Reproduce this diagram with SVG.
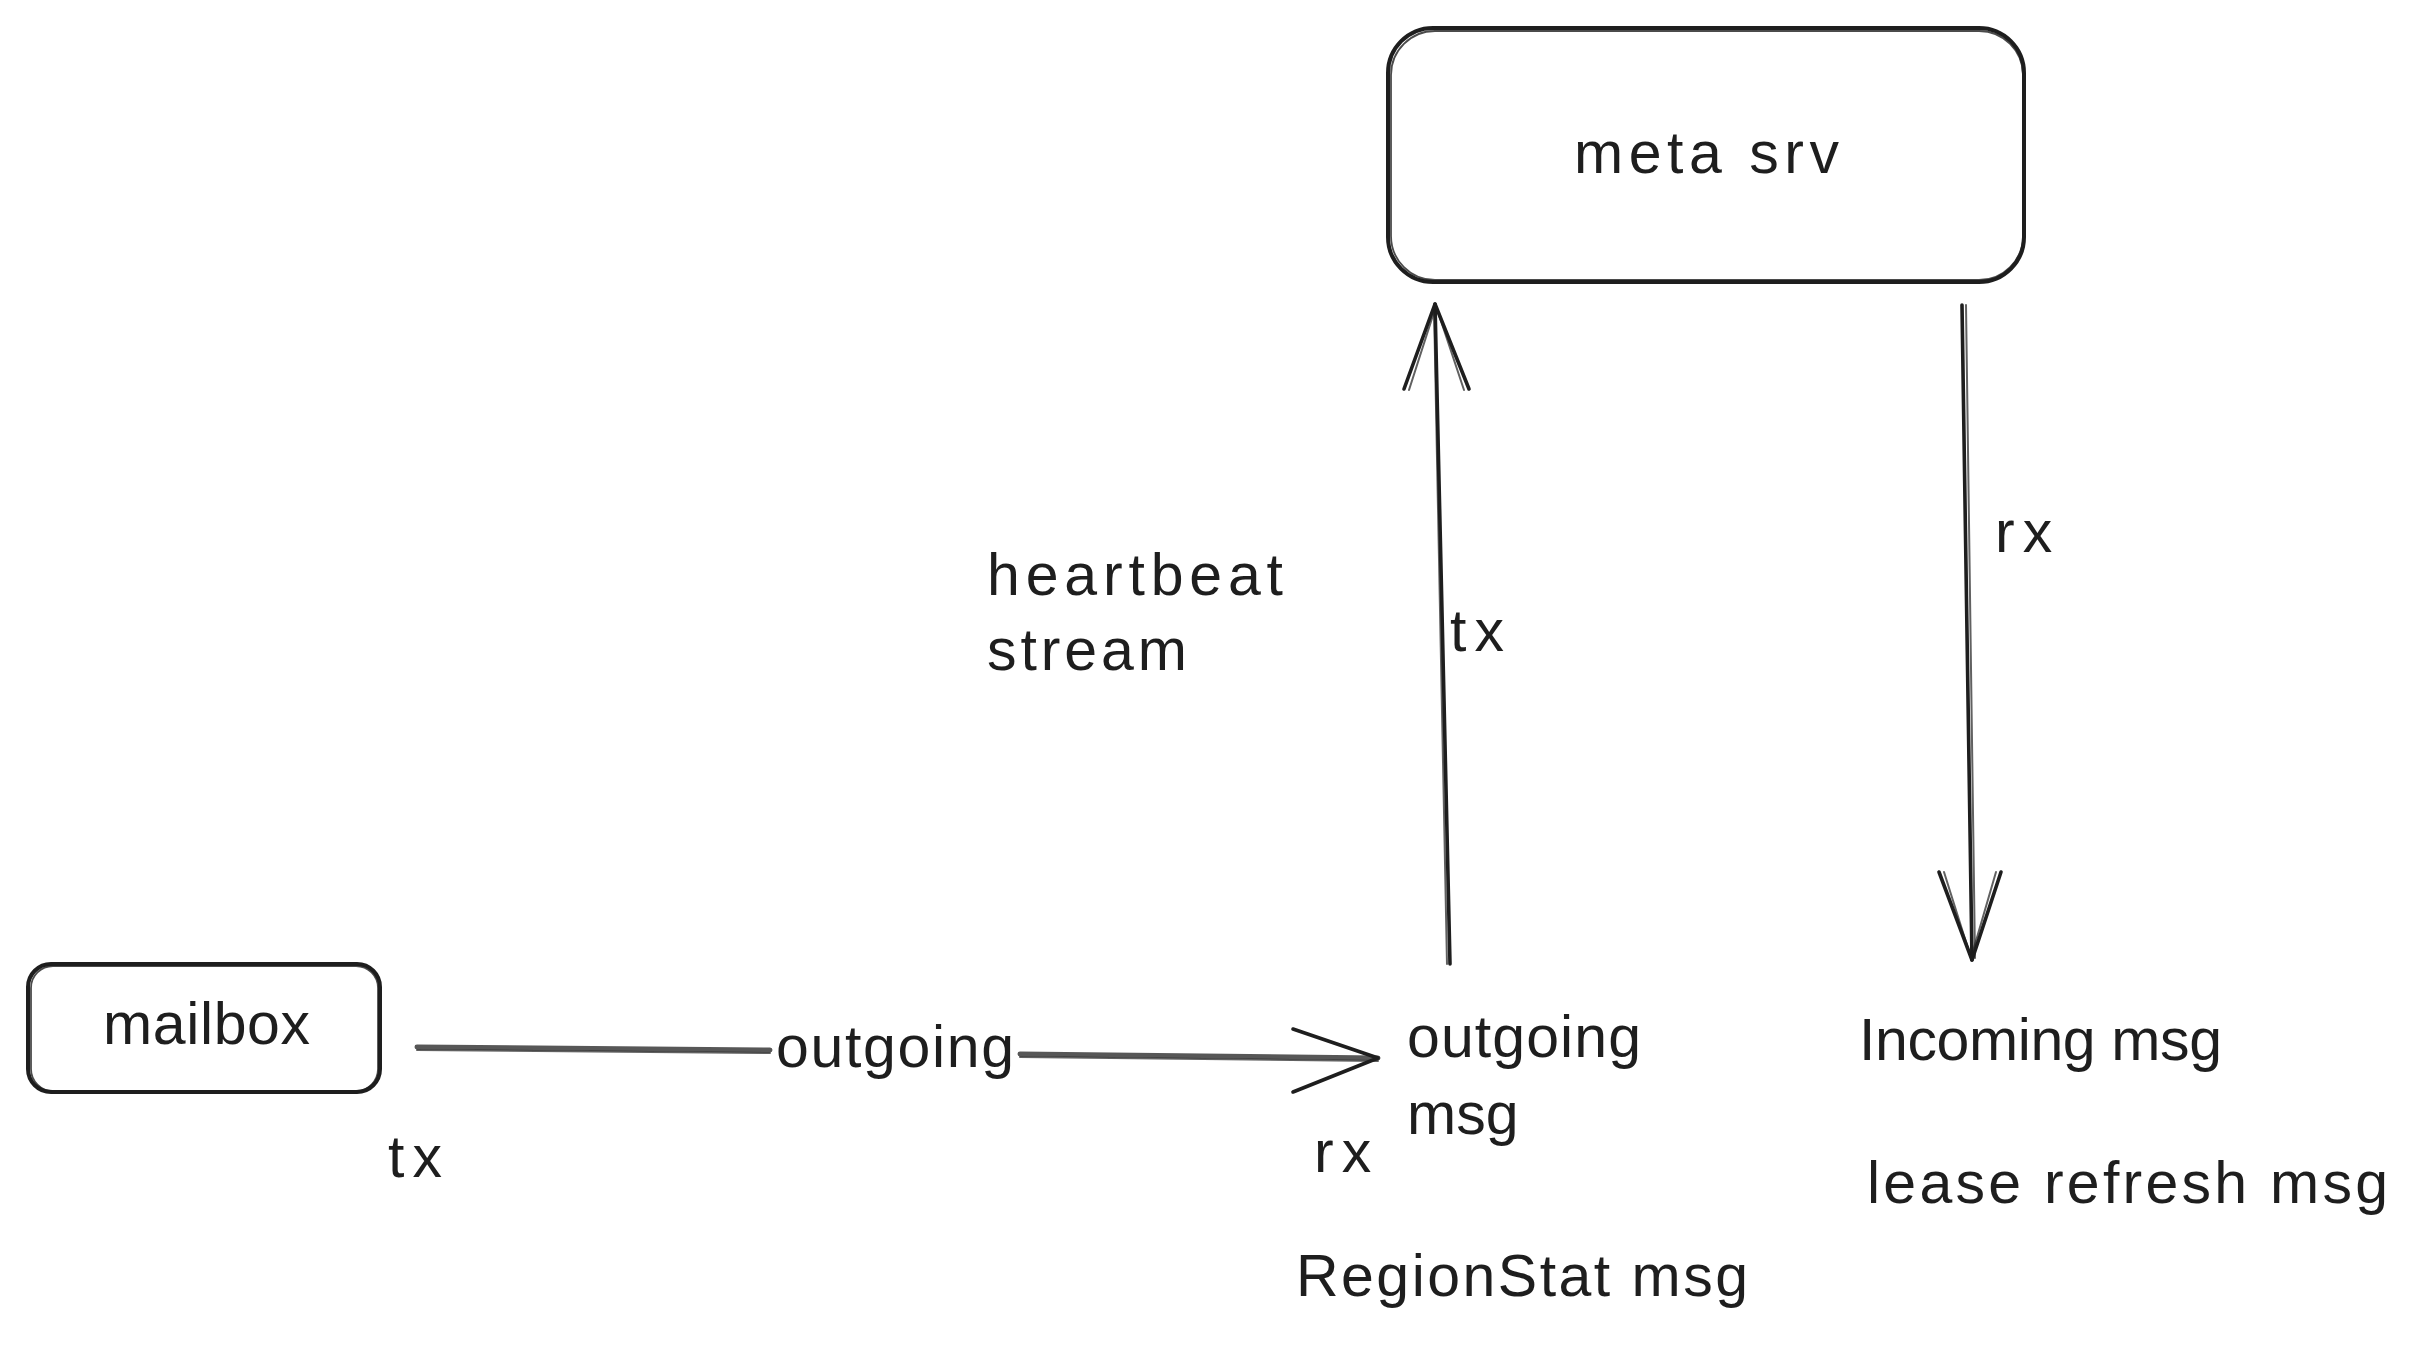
<svg xmlns="http://www.w3.org/2000/svg" width="2419" height="1347" viewBox="0 0 2419 1347">
<style>
.bg{fill:#ffffff}
.box{fill:none;stroke:#1e1e1e;stroke-width:4;stroke-linejoin:round}
.box2{fill:none;stroke:#1e1e1e;stroke-width:1.8;opacity:0.8}
.ln{fill:none;stroke:#1e1e1e;stroke-width:3.6;stroke-linecap:round;stroke-linejoin:round}
.ln2{fill:none;stroke:#1e1e1e;stroke-width:2;stroke-linecap:round;opacity:0.7}
.lh{fill:none;stroke:#3a3a3a;stroke-width:5;stroke-linecap:round;opacity:0.85}
.t{font-family:"Liberation Sans","DejaVu Sans",sans-serif;font-size:59px;fill:#1e1e1e}
.s{letter-spacing:8px}
</style>
<rect class="bg" x="0" y="0" width="2419" height="1347"/>
<g id="node-meta-srv">
<rect class="box" x="1388" y="28" width="636" height="254" rx="45" ry="45"/>
<rect class="box2" x="1391" y="31" width="632" height="249" rx="44" ry="44"/>
<text class="t" x="1574" y="173" textLength="265" lengthAdjust="spacing">meta srv</text>
</g>
<g id="node-mailbox">
<rect class="box" x="28" y="964" width="352" height="128" rx="23" ry="23"/>
<rect class="box2" x="31" y="966" width="347" height="125" rx="22" ry="22"/>
<text class="t" x="103" y="1044" textLength="207" lengthAdjust="spacing">mailbox</text>
</g>
<g id="connectors">
<g id="edge-outgoing">
<path class="lh" d="M417 1047 L770 1050"/>
<path class="ln2" d="M417 1050 L770 1053"/>
<path class="lh" d="M1020 1054 L1378 1058"/>
<path class="ln2" d="M1020 1057 L1378 1061"/>
<path class="ln" d="M1293 1029 L1378 1058 L1293 1092"/>
<text class="t" x="776" y="1067" textLength="238" lengthAdjust="spacing">outgoing</text>
</g>
<g id="edge-tx-up">
<path class="ln" d="M1450 964 L1435 304"/>
<path class="ln2" d="M1447 964 L1434 306"/>
<path class="ln" d="M1404 389 L1435 304 L1469 389"/>
<path class="ln2" d="M1409 390 L1436 306 L1464 390"/>
</g>
<g id="edge-rx-down">
<path class="ln" d="M1962 305 L1972 960"/>
<path class="ln2" d="M1966 305 L1975 958"/>
<path class="ln" d="M1939 872 L1972 960 L2001 872"/>
<path class="ln2" d="M1944 872 L1971 958 L1996 872"/>
</g>
</g>
<g id="labels">
<text class="t" x="987" y="595" textLength="296" lengthAdjust="spacing">heartbeat</text>
<text class="t" x="987" y="670" textLength="200" lengthAdjust="spacing">stream</text>
<text class="t s" x="1450" y="651">tx</text>
<text class="t s" x="1995" y="552">rx</text>
<text class="t s" x="388" y="1177">tx</text>
<text class="t" x="1407" y="1057" textLength="234" lengthAdjust="spacing">outgoing</text>
<text class="t" x="1407" y="1134">msg</text>
<text class="t s" x="1314" y="1172">rx</text>
<text class="t" x="1296" y="1296" textLength="452" lengthAdjust="spacing">RegionStat msg</text>
<text class="t" x="1859" y="1060" textLength="363" lengthAdjust="spacing">Incoming msg</text>
<text class="t" x="1867" y="1203" textLength="521" lengthAdjust="spacing">lease refresh msg</text>
</g>
</svg>
